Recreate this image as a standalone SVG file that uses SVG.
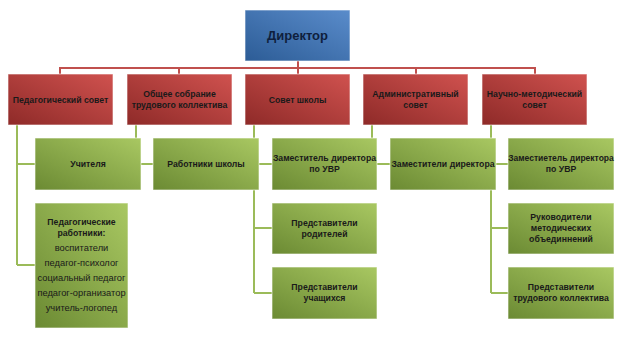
<svg xmlns="http://www.w3.org/2000/svg" width="638" height="339" viewBox="0 0 638 339">
<defs>
<linearGradient id="gBlue" x1="1" y1="0" x2="0" y2="1"><stop offset="0" stop-color="#5a8ccb"/><stop offset="1" stop-color="#2c5c96"/></linearGradient>
<linearGradient id="gRed" x1="1" y1="0" x2="0" y2="1"><stop offset="0" stop-color="#d0524f"/><stop offset="1" stop-color="#8e2a28"/></linearGradient>
<linearGradient id="gGreen" x1="1" y1="0" x2="0" y2="1"><stop offset="0" stop-color="#a9c862"/><stop offset="1" stop-color="#6b8a33"/></linearGradient>
</defs>
<style>
.blue{fill:url(#gBlue);stroke:#ffffff;stroke-opacity:0.6;stroke-width:1}
.red{fill:url(#gRed);stroke:#ffffff;stroke-opacity:0.6;stroke-width:1}
.green{fill:url(#gGreen);stroke:#ffffff;stroke-opacity:0.6;stroke-width:1}
.rl{fill:none;stroke:#c0504d;stroke-width:2}
.gl{fill:none;stroke:#9bbb59;stroke-width:2}
text{font-family:"Liberation Sans",Arial,sans-serif;font-size:8.7px;font-weight:bold;fill:#1a1a1a;text-anchor:middle}
.n{font-weight:normal;font-size:9.3px}
.dir{font-size:13px;fill:#0f1f3d}
.s{font-size:8.5px}
</style>
<rect width="638" height="339" fill="#ffffff"/>
<g id="connectors">
<path class="rl" d="M298,61 V74 M60,74 V68 H535 V74 M179,68 V74 M416,68 V74"/>
<path class="gl" d="M17,125 V265 M17,164 H35 M17,265 H35"/>
<path class="gl" d="M136,125 V164 H153"/>
<path class="gl" d="M254,125 V293 M254,164 H272 M254,228 H272 M254,293 H272"/>
<path class="gl" d="M372,125 V164 H390"/>
<path class="gl" d="M491,125 V293 M491,164 H508 M491,228 H508 M491,293 H508"/>
</g>
<g id="director"><rect class="blue" x="245" y="10" width="105" height="51"/><text class="dir" x="297.5" y="40">Директор</text></g>
<g id="ped-sovet"><rect class="red" x="8" y="74" width="105" height="51"/><text x="60.5" y="102.5">Педагогический совет</text></g>
<g id="obshee"><rect class="red" x="127" y="74" width="105" height="51"/><text x="179.5" y="97">Общее собрание</text><text x="179.5" y="108">трудового коллектива</text></g>
<g id="sovet-shkoly"><rect class="red" x="245" y="74" width="105" height="51"/><text x="297.5" y="102.5">Совет школы</text></g>
<g id="admin"><rect class="red" x="363" y="74" width="105" height="51"/><text x="415.5" y="97">Административный</text><text x="415.5" y="108">совет</text></g>
<g id="nauchno"><rect class="red" x="482" y="74" width="105" height="51"/><text x="534.5" y="97">Научно-методический</text><text x="534.5" y="108">совет</text></g>
<g id="uchitelya"><rect class="green" x="35" y="138" width="106" height="52"/><text x="88" y="166.5">Учителя</text></g>
<g id="rabotniki"><rect class="green" x="153" y="138" width="106" height="52"/><text x="206" y="166.5">Работники школы</text></g>
<g id="zam-uvr-1"><rect class="green" x="272" y="138" width="105" height="52"/><text x="324.5" y="161">Заместитель директора</text><text x="324.5" y="172">по УВР</text></g>
<g id="zamestiteli"><rect class="green" x="390" y="138" width="106" height="52"/><text x="443" y="166.5">Заместители директора</text></g>
<g id="zam-uvr-2"><rect class="green" x="508" y="138" width="106" height="52"/><text class="s" x="561" y="161">Заместиетель директора</text><text x="561" y="172">по УВР</text></g>
<g id="ped-rabotniki"><rect class="green" x="35" y="203" width="93" height="125"/>
<text x="81.5" y="225">Педагогические</text><text x="81.5" y="236">работники:</text>
<text class="n" x="81.5" y="251">воспитатели</text><text class="n" x="81.5" y="266">педагог-психолог</text><text class="n" x="81.5" y="281">социальный педагог</text><text class="n" x="81.5" y="296">педагог-организатор</text><text class="n" x="81.5" y="311">учитель-логопед</text></g>
<g id="pred-roditelei"><rect class="green" x="272" y="203" width="105" height="51"/><text x="324.5" y="226">Представители</text><text x="324.5" y="237">родителей</text></g>
<g id="rukovoditeli"><rect class="green" x="508" y="203" width="106" height="51"/><text x="561" y="220">Руководители</text><text x="561" y="231">методических</text><text x="561" y="242">объединнений</text></g>
<g id="pred-uchashihsya"><rect class="green" x="272" y="267" width="105" height="52"/><text x="324.5" y="290">Представители</text><text x="324.5" y="301">учащихся</text></g>
<g id="pred-trud"><rect class="green" x="508" y="267" width="106" height="52"/><text x="561" y="290">Представители</text><text x="561" y="301">трудового коллектива</text></g>
</svg>
